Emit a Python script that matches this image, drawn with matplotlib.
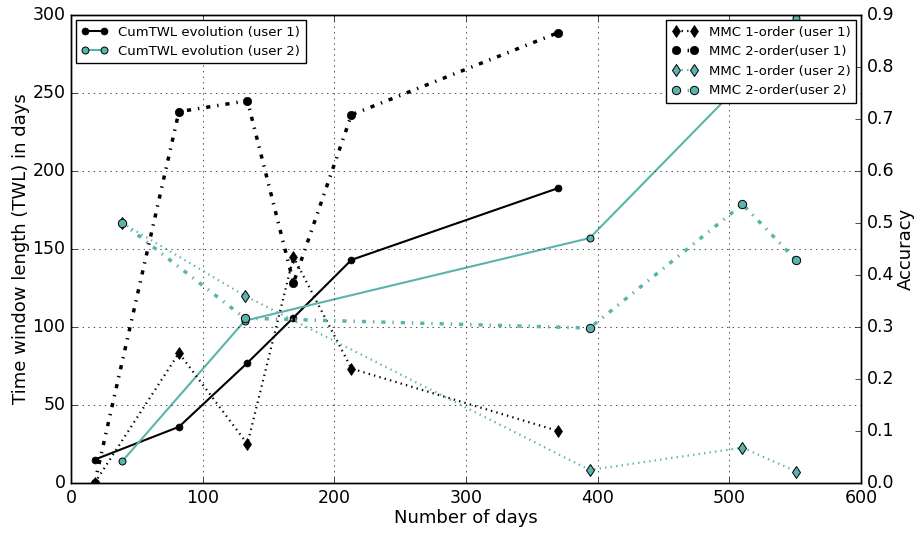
import numpy as np
import matplotlib
matplotlib.use("Agg")
import matplotlib.pyplot as plt

plt.style.use("classic")

teal = "#5ab4ac"

# user 1
days_u1 = [18, 82, 134, 169, 213, 370]
twl_u1 = [15, 36, 77, 106, 143, 189]
acc1_u1 = [0.0, 0.25, 0.075, 0.435, 0.22, 0.10]
acc2_u1 = [0.0, 0.714, 0.735, 0.385, 0.708, 0.866]

# user 2
days_u2 = [39, 132, 394, 510, 551]
twl_u2 = [14, 104, 157, 257, 298]
acc1_u2 = [0.5, 0.36, 0.025, 0.068, 0.022]
acc2_u2 = [0.5, 0.317, 0.298, 0.536, 0.428]

fig = plt.figure(figsize=(9.17, 5.34), dpi=100, facecolor="white")
ax1 = fig.add_axes([0.0774, 0.0955, 0.8615, 0.8765])
ax2 = ax1.twinx()

ax1.plot(days_u1, twl_u1, "-", color="black", lw=1.5, marker="o", ms=5,
         label="CumTWL evolution (user 1)")
ax1.plot(days_u2, twl_u2, "-", color=teal, lw=1.5, marker="o", ms=5,
         mec="black", mew=0.7, label="CumTWL evolution (user 2)")

ax2.plot(days_u1, acc1_u1, ":", color="black", lw=1.6, marker="d", ms=6,
         label="MMC 1-order (user 1)")
ax2.plot(days_u1, acc2_u1, "-.", color="black", lw=2.5, marker="o", ms=6,
         label="MMC 2-order(user 1)")
ax2.plot(days_u2, acc1_u2, ":", color=teal, lw=1.6, marker="d", ms=6,
         mec="black", mew=0.7, label="MMC 1-order (user 2)")
ax2.plot(days_u2, acc2_u2, "-.", color=teal, lw=2.5, marker="o", ms=6,
         mec="black", mew=0.7, label="MMC 2-order(user 2)")

ax1.set_xlim(0, 600)
ax1.set_ylim(0, 300)
ax2.set_ylim(0, 0.9)
ax1.set_xticks(np.arange(0, 601, 100))
ax1.set_yticks(np.arange(0, 301, 50))
ax2.set_yticks(np.arange(0, 0.91, 0.1))
ax2.set_yticklabels([f"{v:.1f}" for v in np.arange(0, 0.91, 0.1)])

ax1.grid(True, color="black", linestyle=":", linewidth=0.5)
for ax in (ax1, ax2):
    ax.tick_params(labelsize=12.5)

ax1.set_xlabel("Number of days", fontsize=13, labelpad=2)
ax1.set_ylabel("Time window length (TWL) in days", fontsize=13, labelpad=2)
ax2.set_ylabel("Accuracy", fontsize=13, labelpad=2)

ax1.legend(loc="upper left", fontsize=9.5, numpoints=2, borderaxespad=0.4)
ax2.legend(loc="upper right", fontsize=9.5, numpoints=2, borderaxespad=0.4)

fig.savefig("out.png", dpi=100, facecolor="white")
